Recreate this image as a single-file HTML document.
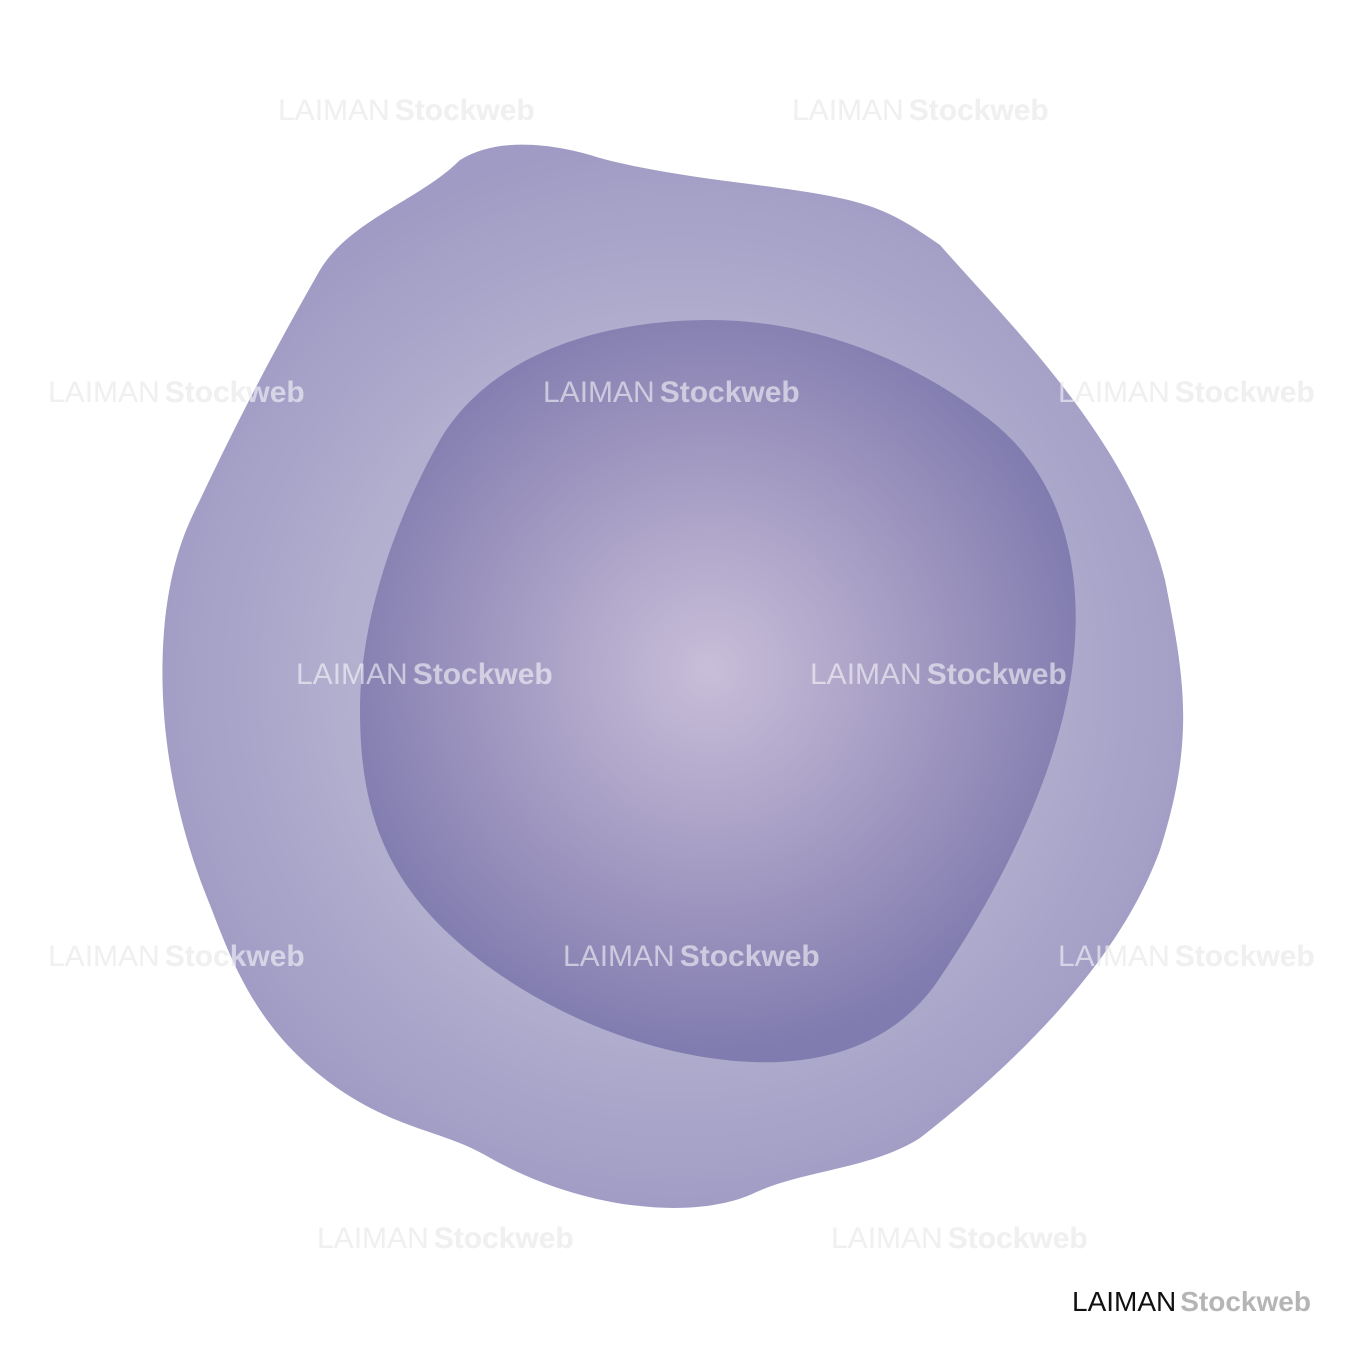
<!DOCTYPE html>
<html><head><meta charset="utf-8"><style>
html,body{margin:0;padding:0;background:#fff;width:1350px;height:1350px;overflow:hidden}
svg{display:block}
</style></head><body>
<svg width="1350" height="1350" viewBox="0 0 1350 1350" xmlns="http://www.w3.org/2000/svg">
<defs>
<radialGradient id="og" cx="680" cy="680" r="540" gradientUnits="userSpaceOnUse">
<stop offset="0" stop-color="#c2bfd8"/><stop offset="0.6" stop-color="#b3b0cf"/><stop offset="1" stop-color="#a09bc4"/>
</radialGradient>
<radialGradient id="ig" cx="710" cy="670" r="380" gradientUnits="userSpaceOnUse">
<stop offset="0" stop-color="#c8bed9"/><stop offset="0.5" stop-color="#a69dc4"/><stop offset="1" stop-color="#817caf"/>
</radialGradient>
<g id="wm">
<text x="278" y="120"><tspan>LAIMAN</tspan><tspan dx="5" font-weight="bold">Stockweb</tspan></text>
<text x="792" y="120"><tspan>LAIMAN</tspan><tspan dx="5" font-weight="bold">Stockweb</tspan></text>
<text x="48" y="402"><tspan>LAIMAN</tspan><tspan dx="5" font-weight="bold">Stockweb</tspan></text>
<text x="543" y="402"><tspan>LAIMAN</tspan><tspan dx="5" font-weight="bold">Stockweb</tspan></text>
<text x="1058" y="402"><tspan>LAIMAN</tspan><tspan dx="5" font-weight="bold">Stockweb</tspan></text>
<text x="296" y="684"><tspan>LAIMAN</tspan><tspan dx="5" font-weight="bold">Stockweb</tspan></text>
<text x="810" y="684"><tspan>LAIMAN</tspan><tspan dx="5" font-weight="bold">Stockweb</tspan></text>
<text x="48" y="966"><tspan>LAIMAN</tspan><tspan dx="5" font-weight="bold">Stockweb</tspan></text>
<text x="563" y="966"><tspan>LAIMAN</tspan><tspan dx="5" font-weight="bold">Stockweb</tspan></text>
<text x="1058" y="966"><tspan>LAIMAN</tspan><tspan dx="5" font-weight="bold">Stockweb</tspan></text>
<text x="317" y="1248"><tspan>LAIMAN</tspan><tspan dx="5" font-weight="bold">Stockweb</tspan></text>
<text x="831" y="1248"><tspan>LAIMAN</tspan><tspan dx="5" font-weight="bold">Stockweb</tspan></text>
</g>
</defs>
<g font-family="Liberation Sans, sans-serif" font-size="30" fill="#dedede">
<use href="#wm"/>
</g>
<path fill="url(#og)" d="M460,160 C500,135 560,145 600,158 C700,185 820,185 880,210 C905,220 925,235 940,245 C1010,325 1130,440 1165,580 C1185,680 1195,740 1160,850 C1120,960 1020,1060 920,1138 C870,1170 800,1170 750,1195 C690,1220 580,1210 485,1155 C440,1130 400,1130 340,1090 C260,1035 235,970 210,905 C175,820 155,720 165,620 C172,560 185,530 200,500 C240,415 280,340 320,270 C350,220 420,200 460,160 Z"/>
<path fill="url(#ig)" d="M710,320 C820,320 920,365 990,420 C1060,475 1080,560 1075,640 C1068,760 1000,890 935,985 C880,1060 790,1070 710,1058 C620,1045 520,1000 450,935 C380,870 360,800 360,710 C360,620 395,520 440,440 C490,355 600,320 710,320 Z"/>
<g font-family="Liberation Sans, sans-serif" font-size="30" fill="#ffffff" fill-opacity="0.55">
<use href="#wm"/>
</g>
<g font-family="Liberation Sans, sans-serif" font-size="28">
<text x="1072" y="1311"><tspan fill="#111">LAIMAN</tspan><tspan dx="4" fill="#b5b5b5" font-weight="bold">Stockweb</tspan></text>
</g>
</svg>
</body></html>
